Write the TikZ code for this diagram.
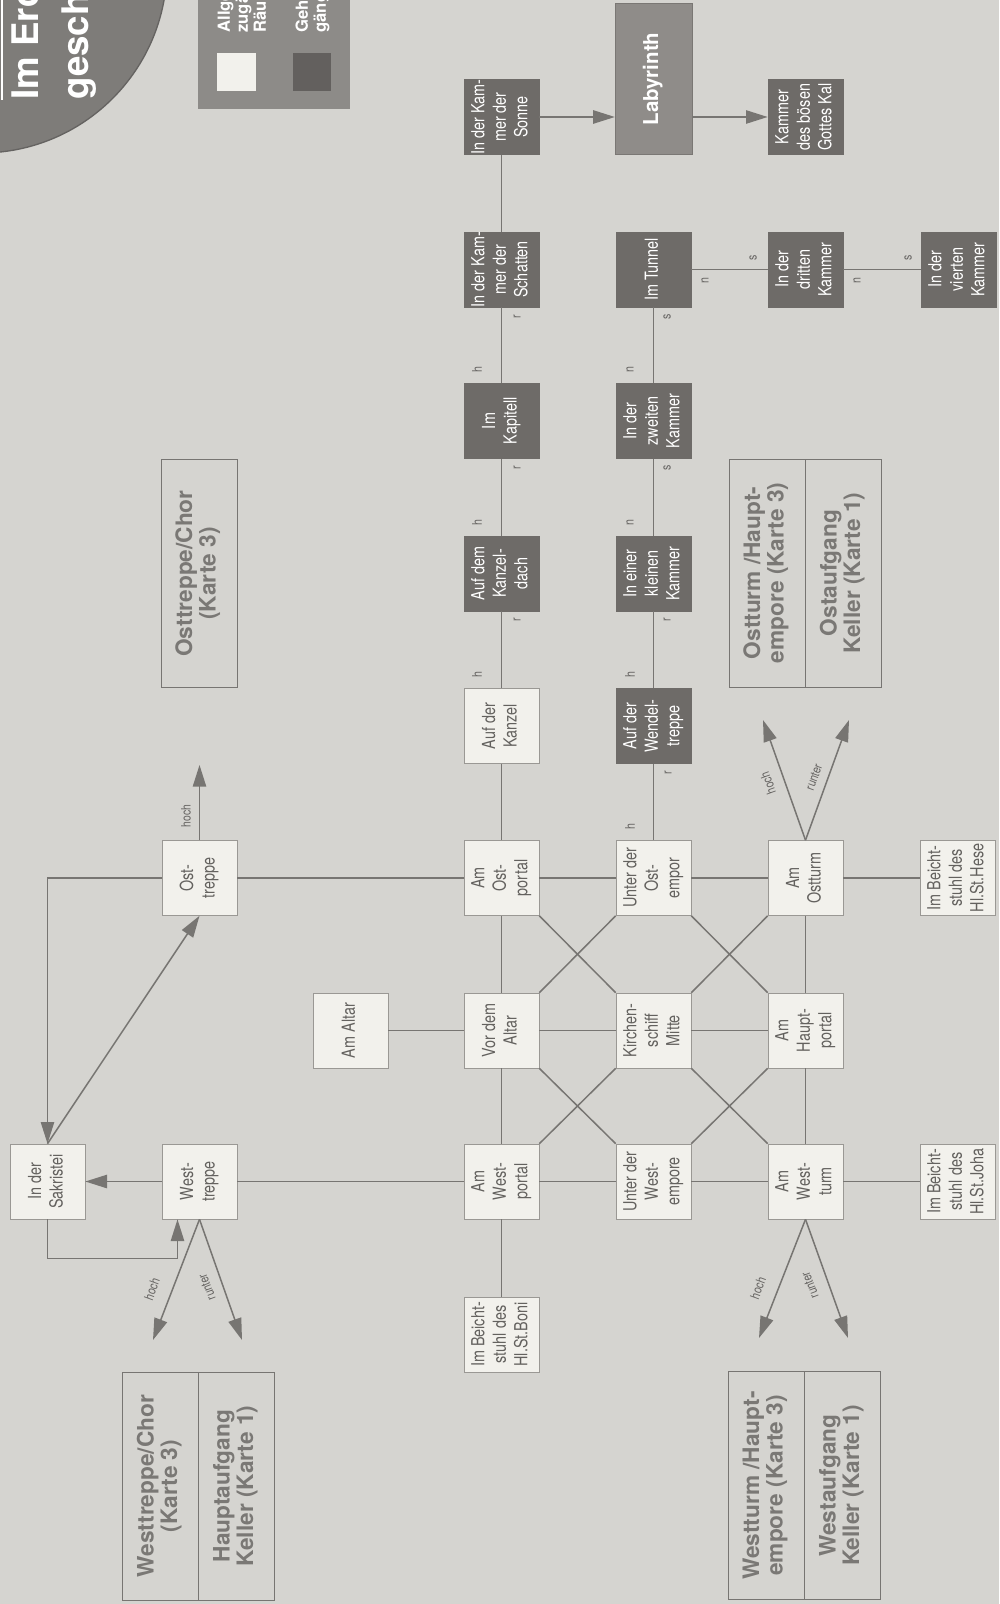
\documentclass[tikz,border=0pt]{standalone}
\usepackage{fontspec}
\setmainfont{TeX Gyre Heros}
\newfontfamily\narrowfont{TeX Gyre Heros}[FakeStretch=0.8]
\usetikzlibrary{arrows.meta,calc}

\definecolor{paper}{HTML}{D5D4D0}
\definecolor{roomlight}{HTML}{F2F1EC}
\definecolor{roomdark}{HTML}{6E6B68}
\definecolor{labyfill}{HTML}{8F8C89}
\definecolor{edge}{HTML}{9A9894}
\definecolor{wire}{HTML}{777572}
\definecolor{ink}{HTML}{63615E}
\definecolor{linkink}{HTML}{7A7875}
\definecolor{disc}{HTML}{7E7C79}
\definecolor{legendfill}{HTML}{8D8B88}

% Text um 90 Grad gedreht (Karte liegt quer)
\newcommand{\rt}[1]{\rotatebox{90}{\begin{tabular}{@{}c@{}}#1\end{tabular}}}
\newcommand{\rl}[1]{\rotatebox{90}{\begin{tabular}{@{}l@{}}#1\end{tabular}}}

\begin{document}
\begin{tikzpicture}[
    x=0.6pt, y=-0.6pt,
    >={Triangle[length=13pt, width=8pt]},
    room/.style={draw=edge, fill=roomlight, text=ink, minimum size=45pt, inner sep=0pt,
                 font=\narrowfont\fontsize{10.8}{12.9}\selectfont},
    secret/.style={room, fill=roomdark, draw=roomdark, text=white},
    link/.style={draw=wire, text=linkink, minimum width=45.6pt, minimum height=136.8pt,
                 inner sep=0pt, font=\bfseries\fontsize{13.6}{13.8}\selectfont},
    way/.style={draw=wire, line width=0.9pt},
    arr/.style={way, ->},
    hint/.style={text=wire!85!black, inner sep=0pt, rotate=90,
                 font=\narrowfont\fontsize{8}{8}\selectfont},
    updown/.style={text=wire!85!black, inner sep=0pt,
                   font=\narrowfont\fontsize{7.8}{8}\selectfont},
  ]

  \useasboundingbox (0,0) rectangle (999,1604);
  \clip (0,0) rectangle (999,1604);
  \fill[paper] (0,0) rectangle (999,1604);

  % ============ Titel und Legende ============
  \draw[fill=disc, draw=disc!80!black, line width=0.8pt] (-19,-33) circle (111.6pt);
  \draw[white, line width=1.6pt] (2,-5) -- (2,100);
  \node[anchor=south west, inner sep=0pt, text=white,
        font=\bfseries\fontsize{22}{30}\selectfont] (title) at (3,100)
        {\rl{Im Erd-\\geschoß}};

  \fill[legendfill] (198,-5) rectangle (350,109);
  \fill[roomlight] (217,53) rectangle (256,91);
  \fill[roomdark!90!black] (293,53) rectangle (331,91);
  \node[anchor=south west, inner sep=0pt, text=white,
        font=\bfseries\fontsize{10}{10.8}\selectfont] (legA) at (217,33)
        {\rl{Allgemein\\zugängliche\\Räume}};
  \node[anchor=south west, inner sep=0pt, text=white,
        font=\bfseries\fontsize{10}{10.8}\selectfont] (legB) at (295,33)
        {\rl{Geheim-\\gänge}};

  % ============ Geheime Räume ============
  \node[secret] (sonne) at (501.5,117) {\rt{In der Kam-\\mer der\\Sonne}};
  \node[draw=labyfill!85!black, fill=labyfill, text=white, minimum width=46pt,
        minimum height=91pt, inner sep=0pt, font=\bfseries\fontsize{12.3}{14}\selectfont]
        (laby) at (653.5,79) {\rt{Labyrinth}};
  \node[secret] (kal) at (805.5,117) {\rt{Kammer\\des bösen\\Gottes Kal}};

  \node[secret] (schatten) at (501.5,269.5) {\rt{In der Kam-\\mer der\\Schatten}};
  \node[secret] (tunnel) at (653.5,269.5) {\rt{Im Tunnel}};
  \node[secret] (dritte) at (805.5,269.5) {\rt{In der\\dritten\\Kammer}};
  \node[secret] (vierte) at (958.5,269.5) {\rt{In der\\vierten\\Kammer}};

  \node[secret] (kapitell) at (501.5,421) {\rt{Im\\Kapitell}};
  \node[secret] (zweite) at (653.5,421) {\rt{In der\\zweiten\\Kammer}};

  \node[secret] (kanzeldach) at (501.5,573.5) {\rt{Auf dem\\Kanzel-\\dach}};
  \node[secret] (kleine) at (653.5,573.5) {\rt{In einer\\kleinen\\Kammer}};

  \node[room] (kanzel) at (501.5,726) {\rt{Auf der\\Kanzel}};
  \node[secret] (wendel) at (653.5,726) {\rt{Auf der\\Wendel-\\treppe}};

  % ============ Kirche ============
  \node[room] (osttr) at (199.5,878) {\rt{Ost-\\treppe}};
  \node[room] (ostportal) at (501.5,878) {\rt{Am\\Ost-\\portal}};
  \node[room] (ostempor) at (653.5,878) {\rt{Unter der\\Ost-\\empor}};
  \node[room] (ostturm) at (805.5,878) {\rt{Am\\Ostturm}};
  \node[room] (hese) at (957.5,878) {\rt{Im Beicht-\\stuhl des\\Hl.St.Hese}};

  \node[room] (altar) at (350.5,1030.5) {\rt{Am Altar}};
  \node[room] (voraltar) at (501.5,1030.5) {\rt{Vor dem\\Altar}};
  \node[room] (schiff) at (653.5,1030.5) {\rt{Kirchen-\\schiff\\Mitte}};
  \node[room] (hauptportal) at (805.5,1030.5) {\rt{Am\\Haupt-\\portal}};

  \node[room] (sakristei) at (47.5,1181.5) {\rt{In der\\Sakristei}};
  \node[room] (westtr) at (199.5,1181.5) {\rt{West-\\treppe}};
  \node[room] (westportal) at (501.5,1181.5) {\rt{Am\\West-\\portal}};
  \node[room] (westempore) at (653.5,1181.5) {\rt{Unter der\\West-\\empore}};
  \node[room] (westturm) at (805.5,1181.5) {\rt{Am\\West-\\turm}};
  \node[room] (joha) at (957.5,1181.5) {\rt{Im Beicht-\\stuhl des\\Hl.St.Joha}};

  \node[room] (boni) at (501.5,1334.5) {\rt{Im Beicht-\\stuhl des\\Hl.St.Boni}};

  % ============ Verweise auf andere Karten ============
  \node[link] (ostchor) at (199,573.5) {\rt{Osttreppe/Chor\\(Karte 3)}};
  \node[link] (ostempore) at (767,573) {\rt{Ostturm /Haupt-\\empore (Karte 3)}};
  \node[link] (ostkeller) at (843.5,573) {\rt{Ostaufgang\\Keller (Karte 1)}};
  \node[link] (westchor) at (160.5,1486) {\rt{Westtreppe/Chor\\(Karte 3)}};
  \node[link] (hauptkeller) at (236.5,1486) {\rt{Hauptaufgang\\Keller (Karte 1)}};
  \node[link] (westempor) at (766,1485.5) {\rt{Westturm /Haupt-\\empore (Karte 3)}};
  \node[link] (westkeller) at (842.5,1485.5) {\rt{Westaufgang\\Keller (Karte 1)}};

  % ============ Gaenge oben ============
  \draw[arr] (sonne.east) -- (sonne.east -| laby.west);
  \draw[arr] (laby.east |- kal.west) -- (kal.west);
  \draw[way] (sonne) -- (schatten);
  \draw[way] (schatten) -- (kapitell);
  \draw[way] (kapitell) -- (kanzeldach);
  \draw[way] (kanzeldach) -- (kanzel);
  \draw[way] (kanzel) -- (ostportal);
  \draw[way] (tunnel) -- (dritte);
  \draw[way] (dritte) -- (vierte);
  \draw[way] (tunnel) -- (zweite);
  \draw[way] (zweite) -- (kleine);
  \draw[way] (kleine) -- (wendel);
  \draw[way] (wendel) -- (ostempor);

  % Richtungsbuchstaben
  \node[hint] at (517,317) {r};  \node[hint] at (477,370) {h};
  \node[hint] at (517,468) {r};  \node[hint] at (477,523) {h};
  \node[hint] at (517,620) {r};  \node[hint] at (477,675) {h};
  \node[hint] at (667,317) {s};  \node[hint] at (630,370) {n};
  \node[hint] at (667,468) {s};  \node[hint] at (630,523) {n};
  \node[hint] at (667,620) {r};  \node[hint] at (630,675) {h};
  \node[hint] at (668,773) {r};  \node[hint] at (630,827) {h};
  \node[hint] at (705,281) {n};  \node[hint] at (753,258) {s};
  \node[hint] at (857,281) {n};  \node[hint] at (908,258) {s};

  % ============ Kirchenraster ============
  \draw[way] (osttr) -- (ostportal);
  \draw[way] (ostportal) -- (ostempor);
  \draw[way] (ostempor) -- (ostturm);
  \draw[way] (ostturm) -- (hese);
  \draw[way] (altar) -- (voraltar);
  \draw[way] (voraltar) -- (schiff);
  \draw[way] (schiff) -- (hauptportal);
  \draw[way] (westtr) -- (westportal);
  \draw[way] (westportal) -- (westempore);
  \draw[way] (westempore) -- (westturm);
  \draw[way] (westturm) -- (joha);
  \draw[way] (ostportal) -- (voraltar);
  \draw[way] (voraltar) -- (westportal);
  \draw[way] (westportal) -- (boni);
  \draw[way] (ostturm) -- (hauptportal);
  \draw[way] (hauptportal) -- (westturm);

  \draw[way] (ostportal.south east) -- (schiff.north west);
  \draw[way] (voraltar.north east) -- (ostempor.south west);
  \draw[way] (ostempor.south east) -- (hauptportal.north west);
  \draw[way] (schiff.north east) -- (ostturm.south west);
  \draw[way] (voraltar.south east) -- (westempore.north west);
  \draw[way] (schiff.south west) -- (westportal.north east);
  \draw[way] (schiff.south east) -- (westturm.north west);
  \draw[way] (hauptportal.south west) -- (westempore.north east);

  % ============ Treppen und Sakristei ============
  \coordinate (osttrUp) at (199.5,765);
  \draw[arr] (osttr.north) -- (osttrUp);
  \node[updown, rotate=90] at (186,816) {hoch};
  \draw[arr] (osttr.west) -| (sakristei.north);
  \draw[arr] (sakristei.north) -- (osttr.south);
  \draw[arr] (westtr) -- (sakristei);
  \draw[arr] (sakristei.south) -- ++(0,39) -| ($(westtr.south)+(-22,0)$);

  \coordinate (wtrHoch) at (153,1340);
  \coordinate (wtrRunter) at (242,1340);
  \draw[arr] (westtr.south) -- (wtrHoch);
  \draw[arr] (westtr.south) -- (wtrRunter);
  \node[updown, rotate=70] at (152,1289) {hoch};
  \node[updown, rotate=111] at (207,1287) {runter};

  \coordinate (otuHoch) at (763,720);
  \coordinate (otuRunter) at (849,720);
  \draw[arr] (ostturm.north) -- (otuHoch);
  \draw[arr] (ostturm.north) -- (otuRunter);
  \node[updown, rotate=110] at (768,783) {hoch};
  \node[updown, rotate=70] at (814,777) {runter};

  \coordinate (wtuHoch) at (759,1338);
  \coordinate (wtuRunter) at (848,1338);
  \draw[arr] (westturm.south) -- (wtuHoch);
  \draw[arr] (westturm.south) -- (wtuRunter);
  \node[updown, rotate=70] at (758,1288) {hoch};
  \node[updown, rotate=111] at (810,1285) {runter};

\end{tikzpicture}
\end{document}
